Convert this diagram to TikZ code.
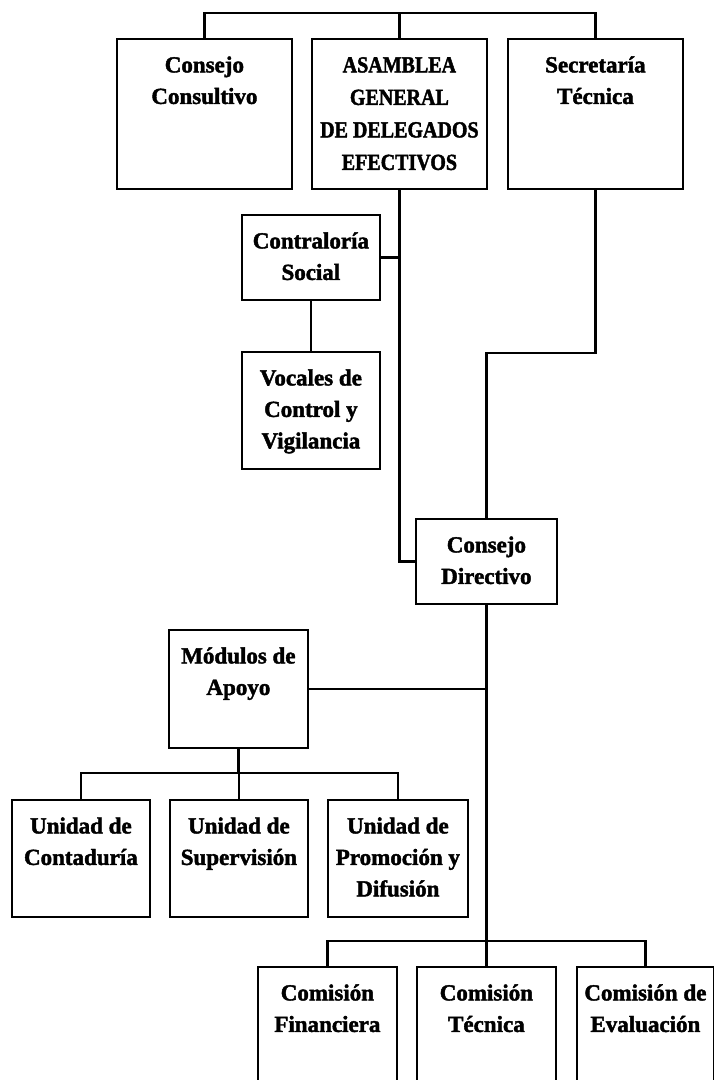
\documentclass[tikz,border=0pt]{standalone}
\usepackage{fontspec}
\setmainfont{Liberation Serif}
\newfontfamily\orgfont[BoldFeatures={FakeBold=1.8}]{Liberation Serif}
\newfontfamily\capsnarrow[FakeStretch=0.87, BoldFeatures={FakeBold=1.8}]{Liberation Serif}
\newcommand\orgtext[4][31.5pt]{\begin{minipage}[t][#3][t]{#2}\centering\orgfont\fontsize{23}{#1}\selectfont\bfseries\rule{0pt}{33.5pt}#4\end{minipage}}
\tikzset{
  orgbox/.style={draw, line width=1.8pt, inner sep=0pt, anchor=north west},
  conn/.style={line width=2.2pt}
}
\begin{document}
\begin{tikzpicture}[x=1pt,y=-1pt]
\clip (0,0) rectangle (714,1080);
\fill[white] (0,0) rectangle (714,1080);
% top level
\node[orgbox] (cc) at (116,38) {\orgtext{175pt}{150pt}{Consejo\\Consultivo}};
\node[orgbox] (ag) at (311,38) {\orgtext[32.5pt]{175pt}{150pt}{\capsnarrow\bfseries ASAMBLEA\\GENERAL\\DE DELEGADOS\\EFECTIVOS}};
\node[orgbox] (st) at (507,38) {\orgtext{175pt}{150pt}{Secretaría\\Técnica}};
% control
\node[orgbox] (cs) at (241,214) {\orgtext{138pt}{85pt}{Contraloría\\Social}};
\node[orgbox] (vc) at (241,351) {\orgtext{138pt}{117pt}{Vocales de\\Control y\\Vigilancia}};
% directive
\node[orgbox] (cd) at (415,518) {\orgtext{141pt}{85pt}{Consejo\\Directivo}};
\node[orgbox] (md) at (168,629) {\orgtext{139pt}{118pt}{Módulos de\\Apoyo}};
% units
\node[orgbox] (uc) at (11,799) {\orgtext{138pt}{117pt}{Unidad de\\Contaduría}};
\node[orgbox] (us) at (169,799) {\orgtext{138pt}{117pt}{Unidad de\\Supervisión}};
\node[orgbox] (up) at (327,799) {\orgtext{140pt}{117pt}{Unidad de\\Promoción y\\Difusión}};
% commissions
\node[orgbox] (cf) at (257,966) {\orgtext{139pt}{140pt}{Comisión\\Financiera}};
\node[orgbox] (ct) at (416,966) {\orgtext{139pt}{140pt}{Comisión\\Técnica}};
\node[orgbox] (ce) at (576,966) {\orgtext{137pt}{140pt}{Comisión de\\Evaluación}};
% connectors
\coordinate (topbus) at (398.5,13);
\coordinate (stjog) at (594.5,353);
\coordinate (ubus) at (237.5,773);
\coordinate (cbus) at (485.5,941);
\draw[conn] (cc.north) |- (topbus) -| (st.north);
\draw[conn] (ag.north) -- (ag.north |- topbus);
\draw[conn] (ag.south) |- (cd.west);
\draw[conn] (cs.east) -- (cs.east -| ag.south);
\draw[conn] (cs.south) -- (cs.south |- vc.north);
\draw[conn] (st.south) -- (st.south |- stjog) -| (cd.north);
\draw[conn] (cd.south) -- (cd.south |- cbus);
\draw[conn] (md.east) -- (md.east -| cd.south);
\draw[conn] (md.south) -- (md.south |- ubus);
\draw[conn] (uc.north) |- (ubus) -| (up.north);
\draw[conn] (us.north) -- (us.north |- ubus);
\draw[conn] (cf.north) |- (cbus) -| (ce.north);
\draw[conn] (ct.north) -- (ct.north |- cbus);
\end{tikzpicture}
\end{document}
